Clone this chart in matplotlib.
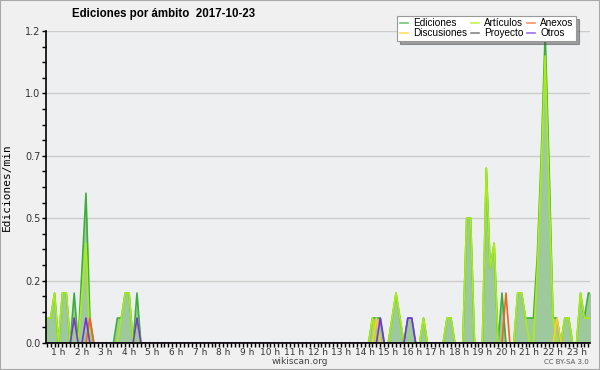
import numpy as np
import matplotlib
matplotlib.use('Agg')
import matplotlib.pyplot as plt
from matplotlib.patches import Rectangle

# edits per minute, one value per 10 minutes (6 per hour), hours 0..23
ediciones = [
    0, 0, 0.1, 0.1, 0.1, 0.2,      # 0 h
    0, 0.2, 0.2, 0, 0.2, 0,        # 1 h
    0.3, 0.6, 0.1, 0, 0, 0,        # 2 h
    0, 0, 0, 0.1, 0.1, 0.2,        # 3 h
    0.2, 0, 0.2, 0, 0, 0,          # 4 h
    0, 0, 0, 0, 0, 0,              # 5 h
    0, 0, 0, 0, 0, 0,              # 6 h
    0, 0, 0, 0, 0, 0,              # 7 h
    0, 0, 0, 0, 0, 0,              # 8 h
    0, 0, 0, 0, 0, 0,              # 9 h
    0, 0, 0, 0, 0, 0,              # 10 h
    0, 0, 0, 0, 0, 0,              # 11 h
    0, 0, 0, 0, 0, 0,              # 12 h
    0, 0, 0, 0, 0, 0,              # 13 h
    0, 0, 0.1, 0.1, 0.1, 0,        # 14 h
    0, 0.1, 0.2, 0.1, 0, 0.1,      # 15 h
    0.1, 0, 0, 0.1, 0, 0,          # 16 h
    0, 0, 0, 0.1, 0.1, 0,          # 17 h
    0, 0, 0.5, 0.5, 0, 0,          # 18 h
    0, 0.7, 0.3, 0.4, 0, 0.2,      # 19 h
    0, 0, 0, 0.2, 0.2, 0.1,        # 20 h
    0.1, 0.1, 0.35, 0.75, 1.24, 0.7,  # 21 h
    0.1, 0.1, 0, 0.1, 0.1, 0,      # 22 h
    0, 0.2, 0.1, 0.2, 0.2, 0,      # 23 h
]
articulos = [
    0, 0, 0, 0.1, 0.1, 0.2,
    0, 0.2, 0.2, 0, 0.1, 0,
    0.2, 0.4, 0, 0, 0, 0,
    0, 0, 0, 0, 0.1, 0.2,
    0.2, 0, 0.1, 0, 0, 0,
    0, 0, 0, 0, 0, 0,
    0, 0, 0, 0, 0, 0,
    0, 0, 0, 0, 0, 0,
    0, 0, 0, 0, 0, 0,
    0, 0, 0, 0, 0, 0,
    0, 0, 0, 0, 0, 0,
    0, 0, 0, 0, 0, 0,
    0, 0, 0, 0, 0, 0,
    0, 0, 0, 0, 0, 0,
    0, 0, 0.1, 0, 0, 0,
    0, 0.1, 0.2, 0.1, 0, 0,
    0, 0, 0, 0.1, 0, 0,
    0, 0, 0, 0.1, 0.1, 0,
    0, 0, 0.5, 0.5, 0, 0,
    0, 0.7, 0.3, 0.4, 0, 0,
    0, 0, 0, 0.2, 0.2, 0.1,
    0, 0, 0.3, 0.7, 1.15, 0.6,
    0.1, 0, 0, 0.1, 0.1, 0,
    0, 0.2, 0.1, 0.1, 0.1, 0,
]
# sparse series: (10-minute slot index, value)
anexos = {14: 0.1, 120: 0.2}
discusiones = {87: 0.1, 133: 0.1}
proyecto = {}
otros = {10: 0.1, 13: 0.1, 26: 0.1, 88: 0.1, 95: 0.1, 96: 0.1}

hours = np.arange(144) / 6.0
narrow = ['Liberation Sans', 'DejaVu Sans']

def full(d):
    v = np.zeros(144)
    for k, val in d.items():
        v[k] = val
    return v

fig = plt.figure(figsize=(6, 3.7), dpi=100, facecolor='#f0f0f0')
fig.patches.append(Rectangle((0, 0), 1, 1, transform=fig.transFigure,
                             fill=False, edgecolor='#a8a8a8', lw=1.5))
ax = fig.add_axes([46/600, 27/370, 544/600, 312/370])
ax.set_facecolor('#eeeff0')

ax.fill_between(hours, ediciones, color='#9dc99d', lw=0, zorder=2)
ax.plot(hours, ediciones, color='#3cae3c', lw=1.2, label='Ediciones', zorder=3)
ax.plot(hours, articulos, color='#aaee11', lw=1.2, label='Artículos', zorder=4)
ax.plot(hours, full(anexos), color='#ee6622', lw=1.2, label='Anexos', zorder=5)
ax.plot(hours, full(discusiones), color='#ffcc22', lw=1.2, label='Discusiones', zorder=5)
ax.plot(hours, full(proyecto), color='#555555', lw=1.2, label='Proyecto', zorder=1)
ax.plot(hours, full(otros), color='#7733dd', lw=1.2, label='Otros', zorder=6)

ax.set_xlim(0.47, 23.57)
ax.set_ylim(0, 1.25)

yt = [0, 0.25, 0.5, 0.75, 1.0, 1.25]
ax.set_yticks(yt)
ax.set_yticklabels(['0.0', '0.2', '0.5', '0.7', '1.0', '1.2'])
ax.set_yticks(np.arange(0, 1.26, 0.0625), minor=True)
ax.yaxis.grid(True, color='#cccccc', lw=1)
ax.set_axisbelow(True)

ax.set_xticks(np.arange(1, 24))
ax.set_xticklabels(['%d h' % h for h in range(1, 24)])
ax.set_xticks(np.arange(3, 142) / 6.0, minor=True)

ax.tick_params(axis='both', which='major', labelsize=7, length=3, width=1,
               colors='black', labelcolor='#333333', pad=1)
ax.tick_params(axis='x', which='major', pad=0.5, labelsize=6.5)
ax.tick_params(axis='both', which='minor', length=3, width=1)
for s in ['top', 'right']:
    ax.spines[s].set_visible(False)
for s in ['left', 'bottom']:
    ax.spines[s].set_linewidth(1.2)
    ax.spines[s].set_zorder(8)

ax.set_ylabel('Ediciones/min', family='DejaVu Sans Mono', fontsize=8)
ax.yaxis.set_label_coords(-0.062, 0.5)

fig.text(164/600, 1 - 14/370, 'Ediciones por ámbito  2017-10-23', ha='center',
         va='center', fontsize=8.3, fontweight='bold', family=narrow)
fig.text(300/600, 1 - 362/370, 'wikiscan.org', ha='center', va='center',
         fontsize=6.5, color='#444444')
fig.text(589/600, 1 - 362/370, 'CC BY-SA 3.0', ha='right', va='center',
         fontsize=5, color='#555555')

h, l = ax.get_legend_handles_labels()
order = [0, 3, 1, 4, 2, 5]
leg = ax.legend([h[i] for i in order], [l[i] for i in order], ncol=3,
                loc='upper right', bbox_to_anchor=(581/600, 1 - 11/370),
                bbox_transform=fig.transFigure, frameon=True,
                prop={'family': narrow, 'size': 7.2},
                fancybox=False, shadow=True, framealpha=1, edgecolor='#999999',
                handlelength=0.8, handletextpad=0.5, columnspacing=0.4,
                labelspacing=0.0, borderpad=0.25)
leg.get_frame().set_linewidth(0.8)
leg.set_zorder(10)
for line in leg.get_lines():
    line.set_alpha(0.7)

fig.savefig('out.png', dpi=100, facecolor=fig.get_facecolor())
